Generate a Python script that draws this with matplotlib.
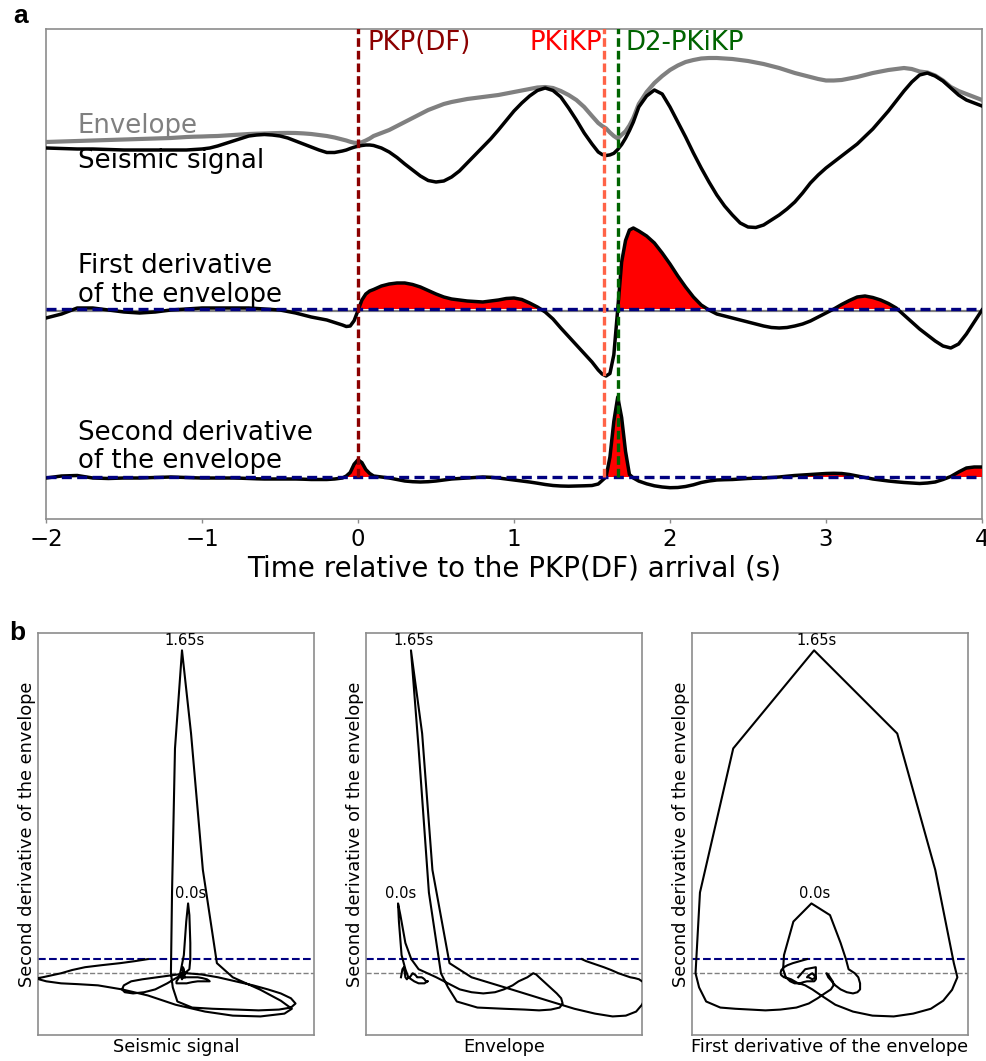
import numpy as np
import matplotlib
matplotlib.use("Agg")
import matplotlib.pyplot as plt

# ---------------- data ----------------
time_s = [-2.0, -1.9, -1.8, -1.7, -1.6, -1.5, -1.4, -1.3, -1.2, -1.1,
          -1.05, -1.0, -0.95, -0.9, -0.85, -0.8, -0.75, -0.7, -0.65, -0.6,
          -0.55, -0.5, -0.45, -0.4, -0.35, -0.3, -0.25, -0.2, -0.15, -0.1,
          -0.075, -0.05, -0.025, 0.0, 0.025, 0.05, 0.075,
          0.1, 0.15, 0.2, 0.25, 0.3, 0.35, 0.4, 0.45, 0.5, 0.55, 0.6, 0.65, 0.7, 0.75,
          0.8, 0.85, 0.9, 0.95, 1.0, 1.05, 1.1, 1.15, 1.2, 1.25, 1.3, 1.35, 1.4, 1.45, 1.5,
          1.54, 1.565, 1.59, 1.615, 1.64, 1.665, 1.69, 1.715, 1.74, 1.765,
          1.8, 1.85, 1.9, 1.95, 2.0, 2.05, 2.1, 2.15, 2.2, 2.25, 2.3, 2.35, 2.4, 2.45, 2.5,
          2.55, 2.6, 2.65, 2.7, 2.75, 2.8, 2.85, 2.9, 2.95, 3.0, 3.05, 3.1, 3.15, 3.2, 3.25,
          3.3, 3.35, 3.4, 3.45, 3.5, 3.55, 3.6, 3.65, 3.7, 3.75, 3.8, 3.85, 3.9, 3.95, 4.0]

signal = [0.2, 0.15, 0.1, 0.1, 0.05, 0.0, 0.0, 0.0, 0.0, 0.0,
          0.05, 0.1, 0.2, 0.4, 0.65, 0.9, 1.15, 1.4, 1.5, 1.55,
          1.5, 1.4, 1.2, 0.9, 0.6, 0.3, 0.0, -0.25, -0.25, -0.1,
          0.0, 0.15, 0.28, 0.38, 0.45, 0.5, 0.5,
          0.45, 0.2, -0.2, -0.75, -1.4, -2.0, -2.6, -3.05, -3.2, -3.1, -2.7, -2.1, -1.3, -0.5,
          0.3, 1.1, 2.0, 2.95, 3.9, 4.7, 5.4, 5.95, 6.2, 5.95, 5.3, 4.2, 3.0, 1.7, 0.6,
          -0.2, -0.45, -0.55, -0.49, -0.33, 0.05, 0.54, 1.18, 1.94, 2.8,
          4.3, 5.4, 6.0, 5.6, 4.3, 2.8, 1.3, -0.3, -1.8, -3.2, -4.5, -5.6, -6.5, -7.3, -7.7,
          -7.75, -7.5, -7.0, -6.5, -5.9, -5.2, -4.3, -3.3, -2.5, -1.8, -1.2, -0.6, 0.0, 0.6, 1.35,
          2.1, 3.0, 3.9, 4.9, 5.9, 6.8, 7.5, 7.7, 7.4, 6.9, 6.2, 5.5, 5.0, 4.7, 4.4]

envelope = [0.8, 0.85, 0.9, 0.95, 1.0, 1.05, 1.1, 1.15, 1.2, 1.3,
            1.33, 1.35, 1.38, 1.4, 1.45, 1.5, 1.55, 1.6, 1.63, 1.65,
            1.68, 1.7, 1.71, 1.7, 1.66, 1.6, 1.5, 1.4, 1.25, 1.05,
            0.95, 0.82, 0.73, 0.7, 0.78, 0.95, 1.15,
            1.4, 1.7, 2.0, 2.4, 2.8, 3.2, 3.6, 4.0, 4.3, 4.6, 4.8, 4.95, 5.1, 5.2,
            5.3, 5.4, 5.5, 5.65, 5.8, 5.95, 6.1, 6.25, 6.3, 6.2, 5.9, 5.5, 5.0, 4.3, 3.4,
            2.7, 2.4, 2.16, 1.75, 1.4, 1.14, 1.52, 1.87, 2.45, 3.2,
            4.6, 5.8, 6.7, 7.4, 8.0, 8.45, 8.8, 9.0, 9.15, 9.2, 9.2, 9.15, 9.1, 9.0, 8.9,
            8.75, 8.6, 8.4, 8.2, 7.95, 7.7, 7.5, 7.3, 7.1, 6.95, 6.95, 7.0, 7.15, 7.3, 7.5,
            7.7, 7.85, 8.0, 8.1, 8.2, 8.1, 7.85, 7.75, 7.45, 6.95, 6.3, 5.9, 5.6, 5.3, 5.0]

first_deriv = [-0.9, -0.5, 0.1, 0.1, -0.1, -0.3, -0.4, -0.3, -0.1, 0.0,
               0.05, 0.1, 0.1, 0.1, 0.1, 0.1, 0.1, 0.1, 0.05, 0.0,
               -0.05, -0.1, -0.25, -0.4, -0.6, -0.8, -0.95, -1.1, -1.35, -1.6,
               -1.75, -1.7, -1.17, -0.15, 0.9, 1.5, 1.8,
               1.95, 2.3, 2.5, 2.6, 2.6, 2.45, 2.2, 1.85, 1.5, 1.2, 1.0, 0.9, 0.8, 0.75,
               0.7, 0.8, 0.9, 1.05, 1.1, 0.95, 0.6, 0.2, -0.3, -1.0, -1.9, -2.75, -3.6, -4.45, -5.3,
               -6.1, -6.5, -6.7, -6.45, -4.57, 0.0, 4.7, 6.85, 7.9, 8.1,
               7.8, 7.3, 6.6, 5.6, 4.5, 3.3, 2.2, 1.2, 0.4, -0.1, -0.5, -0.7, -0.9, -1.1, -1.3,
               -1.5, -1.7, -1.85, -1.9, -1.85, -1.7, -1.5, -1.2, -0.8, -0.4, 0.0, 0.45, 0.85, 1.2, 1.3,
               1.15, 0.9, 0.55, 0.1, -0.6, -1.3, -2.0, -2.6, -3.2, -3.7, -3.9, -3.5, -2.5, -1.3, -0.1]

second_deriv = [-0.1, 0.1, 0.15, -0.1, -0.15, -0.1, -0.1, -0.05, 0.0, -0.05,
                -0.08, -0.1, -0.1, -0.1, -0.1, -0.1, -0.12, -0.15, -0.18, -0.2,
                -0.2, -0.2, -0.2, -0.2, -0.22, -0.25, -0.25, -0.25, -0.2, -0.1,
                0.1, 0.45, 1.28, 1.73, 1.44, 0.75, 0.35,
                0.1, 0.0, -0.1, -0.25, -0.4, -0.47, -0.5, -0.47, -0.4, -0.3, -0.2, -0.15, -0.1, -0.05,
                0.0, -0.03, -0.1, -0.2, -0.3, -0.4, -0.5, -0.62, -0.75, -0.85, -0.9, -0.92, -0.9, -0.88, -0.85,
                -0.7, -0.35, 0.0, 2.0, 5.57, 8.0, 5.94, 2.56, 0.25, -0.1,
                -0.41, -0.68, -0.88, -1.0, -1.07, -1.05, -0.95, -0.78, -0.55, -0.4, -0.3, -0.27, -0.25, -0.2, -0.15,
                -0.12, -0.1, -0.05, 0.0, 0.08, 0.15, 0.2, 0.25, 0.3, 0.35, 0.37, 0.35, 0.25, 0.1, -0.05,
                -0.2, -0.3, -0.4, -0.48, -0.55, -0.6, -0.65, -0.6, -0.5, -0.25, 0.05, 0.5, 0.9, 1.0, 1.0]

phase_names = ["PKP(DF)", "PKiKP", "D2-PKiKP"]
phase_times = [0.0, 1.58, 1.665]
phase_line_colors = ["darkred", "tomato", "darkgreen"]
phase_text_colors = ["darkred", "red", "darkgreen"]

xticks_a = [-2, -1, 0, 1, 2, 3, 4]
mark_times = [0.0, 1.65]
mark_labels = ["0.0s", "1.65s"]
window_end = 3.0          # time window used for panel b
d2_threshold = 0.35       # blue dashed level in panel b
d1_zero_shift = -0.2      # grey zero line under the first derivative

t = np.array(time_s)
sig = np.array(signal)
env = np.array(envelope)
d1 = np.array(first_deriv)
d2 = np.array(second_deriv)
assert len(t) == len(sig) == len(env) == len(d1) == len(d2)

# ---------------- figure ----------------
W, H = 986, 1061
fig = plt.figure(figsize=(W / 100, H / 100), dpi=100)
plt.rcParams['font.family'] = ['DejaVu Sans']

spine_col = '0.55'

def style_spines(ax):
    for s in ax.spines.values():
        s.set_color(spine_col)
        s.set_linewidth(1.2)

# Panel a
axa = fig.add_axes([46 / W, 1 - 519 / H, (982 - 46) / W, (519 - 29) / H])
style_spines(axa)
off_sig, off_d1, off_d2 = 36.9, 21.0, 4.2
axa.set_xlim(-2, 4)
axa.set_ylim(0, 49)

axa.plot(t, off_sig + env, color='gray', lw=3.0, zorder=3, solid_joinstyle='round')
axa.plot(t, off_sig + sig, color='black', lw=2.5, zorder=4, solid_joinstyle='round')

axa.axhline(off_d1 + d1_zero_shift, color='gray', lw=1.6, zorder=2)
axa.fill_between(t, off_d1, off_d1 + d1, where=d1 > 0, interpolate=True, color='red', lw=0, zorder=3)
axa.plot(t, off_d1 + d1, color='black', lw=2.5, zorder=4, solid_joinstyle='round')
axa.axhline(off_d1, color='navy', lw=2.4, ls=(0, (3.0, 1.6)), zorder=6)

axa.fill_between(t, off_d2, off_d2 + d2, where=d2 > 0, interpolate=True, color='red', lw=0, zorder=3)
axa.plot(t, off_d2 + d2, color='black', lw=2.5, zorder=4, solid_joinstyle='round')
axa.axhline(off_d2, color='navy', lw=2.4, ls=(0, (3.0, 1.6)), zorder=6)

for tp, c in zip(phase_times, phase_line_colors):
    axa.plot([tp, tp], [off_d2, 50], color=c, lw=2.4, ls=(0, (2.6, 1.2)), zorder=7)

fs_lab = 18.7
axa.text(0.058, 46.9, phase_names[0], color=phase_text_colors[0], fontsize=fs_lab, ha='left', va='baseline', zorder=8)
axa.text(1.564, 46.9, phase_names[1], color=phase_text_colors[1], fontsize=fs_lab, ha='right', va='baseline', zorder=8)
axa.text(1.712, 46.9, phase_names[2], color=phase_text_colors[2], fontsize=fs_lab, ha='left', va='baseline', zorder=8)

axa.text(-1.795, 38.6, "Envelope", color='gray', fontsize=fs_lab, va='baseline', zorder=5)
axa.text(-1.795, 35.1, "Seismic signal", color='black', fontsize=fs_lab, va='baseline', zorder=5)
axa.text(-1.795, 24.6, "First derivative", color='black', fontsize=fs_lab, va='baseline', zorder=5)
axa.text(-1.795, 21.7, "of the envelope", color='black', fontsize=fs_lab, va='baseline', zorder=5)
axa.text(-1.795, 7.9, "Second derivative", color='black', fontsize=fs_lab, va='baseline', zorder=5)
axa.text(-1.795, 5.1, "of the envelope", color='black', fontsize=fs_lab, va='baseline', zorder=5)

axa.set_xticks(xticks_a)
axa.set_xticklabels([("\u2212%d" % abs(v)) if v < 0 else str(v) for v in xticks_a])
axa.tick_params(axis='x', labelsize=16.5, length=2.8, width=1, color=spine_col, pad=4)
axa.set_yticks([])
axa.set_xlabel("Time relative to the PKP(DF) arrival (s)", fontsize=20, labelpad=2)

fig.text(13 / W, 1 - 23 / H, "a", fontsize=19, fontweight='bold', family='Liberation Sans', va='baseline')
fig.text(9 / W, 1 - 640 / H, "b", fontsize=19, fontweight='bold', family='Liberation Sans', va='baseline')

# Panel b: phase trajectories of the second derivative
mask = t <= window_end
b_specs = [
    (38, sig, "Seismic signal", (-7.75, 7.2)),
    (366, env, "Envelope", (-0.39, 9.0)),
    (692, d1, "First derivative of the envelope", (-6.9, 8.7)),
]
ylim_b = (-1.53, 8.43)
for left, xs, xl, xlim in b_specs:
    ax = fig.add_axes([left / W, 1 - 1035 / H, 276 / W, (1035 - 633) / H])
    style_spines(ax)
    ax.plot(xs[mask], d2[mask], color='black', lw=1.5, zorder=3)
    ax.axhline(d2_threshold, color='navy', lw=1.5, ls='--', zorder=2)
    ax.axhline(0.0, color='gray', lw=1.0, ls='--', zorder=2)
    ax.set_xlim(*xlim)
    ax.set_ylim(*ylim_b)
    ax.set_xticks([])
    ax.set_yticks([])
    ax.set_xlabel(xl, fontsize=12.8, labelpad=2)
    ax.set_ylabel("Second derivative of the envelope", fontsize=12.8)
    ax.yaxis.set_label_coords(-0.006, 0.5)
    for mt, ml in zip(mark_times, mark_labels):
        sel = np.where(np.abs(t - mt) <= 0.03)[0]
        i = sel[np.argmax(d2[sel])]
        ax.annotate(ml, xy=(xs[i], d2[i]), xytext=(2, 1.5), textcoords='offset points',
                    ha='center', va='bottom', fontsize=10.5)

fig.savefig("out.png", dpi=100)
